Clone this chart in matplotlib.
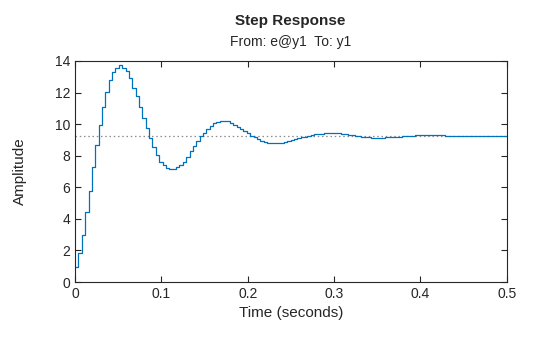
import numpy as np
import matplotlib
matplotlib.use("Agg")
from matplotlib import pyplot as plt

plt.rcParams['font.family'] = ['Liberation Sans', 'DejaVu Sans']

# sampled step response (sample time Ts)
Ts = 0.0039
amplitude = [
    0.95, 1.82, 2.96, 4.43, 5.74, 7.26, 8.66, 9.92, 11.06, 12.01,
    12.77, 13.30, 13.57, 13.72, 13.57, 13.36, 12.90, 12.31, 11.76, 11.06,
    10.37, 9.73, 9.10, 8.53, 8.02, 7.63, 7.40, 7.23, 7.15, 7.15,
    7.26, 7.39, 7.62, 7.94, 8.28, 8.63, 8.93, 9.23, 9.47, 9.71,
    9.90, 10.05, 10.15, 10.22, 10.22, 10.18, 10.09, 9.94, 9.84, 9.71,
    9.58, 9.42, 9.28, 9.18, 9.05, 8.91, 8.85, 8.78, 8.78, 8.78,
    8.78, 8.78, 8.85, 8.91, 8.98, 9.04, 9.10, 9.16, 9.16, 9.25,
    9.33, 9.40, 9.40, 9.40, 9.47, 9.47, 9.41, 9.41, 9.41, 9.35,
    9.35, 9.29, 9.29, 9.23, 9.23, 9.16, 9.16, 9.16, 9.10, 9.10,
    9.10, 9.10, 9.16, 9.16, 9.16, 9.16, 9.16, 9.25, 9.25, 9.25,
    9.25, 9.29, 9.29, 9.29, 9.29, 9.29, 9.29, 9.29, 9.29, 9.29,
    9.25, 9.25, 9.25, 9.25, 9.25, 9.25, 9.25, 9.25, 9.25, 9.25,
    9.25, 9.25, 9.25, 9.25, 9.25, 9.25, 9.25, 9.25, 9.25, 9.25,
]
final_value = 9.24
t = np.arange(len(amplitude)) * Ts

fig = plt.figure(figsize=(5.6, 3.37), dpi=100)
ax = fig.add_axes([0.134, 0.163, 0.771, 0.656])

ax.axhline(final_value, color='#8c8c8c', linestyle=(0, (1.2, 2.2)), linewidth=0.9)
ax.plot(t, amplitude, drawstyle='steps-post', color='#0072BD', linewidth=0.9)

ax.set_xlim(0, 0.5)
ax.set_ylim(0, 14)
ax.set_xticks([0, 0.1, 0.2, 0.3, 0.4, 0.5])
ax.set_xticklabels(['0', '0.1', '0.2', '0.3', '0.4', '0.5'])
ax.set_yticks(range(0, 15, 2))

txt = '#262626'
ax.tick_params(direction='in', top=True, right=True, length=4, width=0.8,
               labelsize=10, colors=txt)
for s in ax.spines.values():
    s.set_color(txt)
    s.set_linewidth(0.8)

ax.set_xlabel('Time (seconds)', fontsize=11, color=txt, labelpad=4)
ax.set_ylabel('Amplitude', fontsize=11, color=txt, labelpad=20)

fig.text(0.519, 0.938, 'Step Response', ha='center', va='center',
         fontsize=11, fontweight='bold', color=txt)
fig.text(0.519, 0.875, 'From: e@y1  To: y1', ha='center', va='center',
         fontsize=10, color=txt)

fig.savefig('out.png', dpi=100)
